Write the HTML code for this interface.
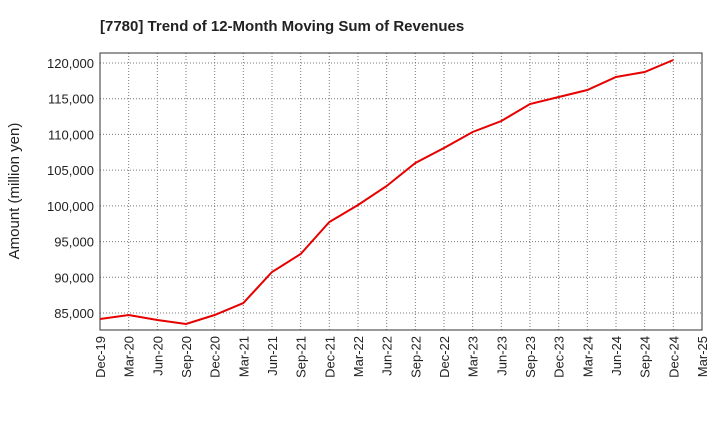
<!DOCTYPE html>
<html><head><meta charset="utf-8"><style>
body{margin:0;background:#fff;font-family:"Liberation Sans",sans-serif}
</style></head><body>
<svg id="c" width="720" height="440" xmlns="http://www.w3.org/2000/svg">
<text x="100" y="31" font-size="15" font-weight="bold" fill="#222">[7780]  Trend of 12-Month Moving Sum of Revenues</text>
<text transform="translate(19,191) rotate(-90)" text-anchor="middle" font-size="15" fill="#222">Amount (million yen)</text>
<g id="grid"></g><g id="axes"></g><g id="series"></g>
</svg>
<script>
const categories=["Dec-19","Mar-20","Jun-20","Sep-20","Dec-20","Mar-21","Jun-21","Sep-21","Dec-21","Mar-22","Jun-22","Sep-22","Dec-22","Mar-23","Jun-23","Sep-23","Dec-23","Mar-24","Jun-24","Sep-24","Dec-24","Mar-25"];
const revenues=[84160,84720,84020,83460,84720,86400,90740,93260,97740,100120,102780,106000,108100,110340,111880,114260,115240,116220,118040,118740,120420];
const yTicks=[85000,90000,95000,100000,105000,110000,115000,120000];
const L=100,R=702,T=53,B=330,ymin=82620,ymax=121400;
const NS="http://www.w3.org/2000/svg";
const xs=i=>L+(R-L)*i/(categories.length-1);
const ys=v=>B-(v-ymin)/(ymax-ymin)*(B-T);
function mk(tag,attrs,parent){const e=document.createElementNS(NS,tag);for(const k in attrs)e.setAttribute(k,attrs[k]);document.getElementById(parent).appendChild(e);return e;}
categories.forEach((c,i)=>{
 const g=mk("line",{x1:xs(i),x2:xs(i),y1:T,y2:B,stroke:"#777","stroke-dasharray":"1,2","stroke-width":1},"grid");
 
 
 const t=mk("text",{transform:`translate(${xs(i)+5},${B+6}) rotate(-90)`,"text-anchor":"end","font-size":13,fill:"#222"},"axes");
 t.textContent=c;
 
 
});
yTicks.forEach(v=>{
 const g=mk("line",{x1:L,x2:R,y1:ys(v),y2:ys(v),stroke:"#777","stroke-dasharray":"1,2","stroke-width":1},"grid");
 
 
 const t=mk("text",{x:L-6,y:ys(v)+5,"text-anchor":"end","font-size":13,fill:"#222"},"axes");
 t.textContent=v.toLocaleString("en-US");
 
 
});
const fr=mk("rect",{x:L,y:T,width:R-L,height:B-T,fill:"none",stroke:"#333","stroke-width":1},"axes");


const ln=mk("polyline",{points:revenues.map((v,i)=>xs(i)+","+ys(v)).join(" "),fill:"none",stroke:"#e60000","stroke-width":2},"series");


</script>
</body></html>
